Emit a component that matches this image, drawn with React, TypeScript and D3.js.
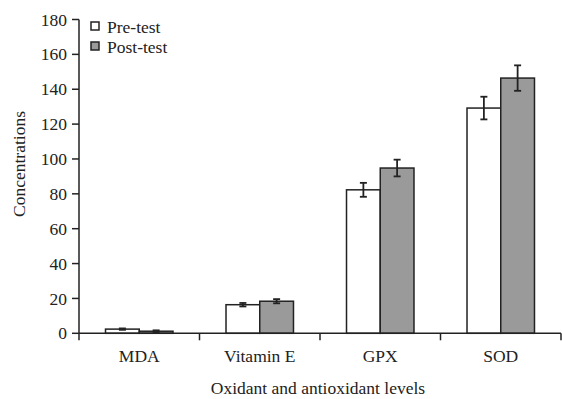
import { useEffect, useRef } from "react";
import * as d3 from "d3";

const categories = ["MDA", "Vitamin E", "GPX", "SOD"];
const seriesNames = ["Pre-test", "Post-test"];
const preValues = [2.4, 16.4, 82.3, 129.2];
const preErrors = [0.4, 1.0, 4.0, 6.5];
const postValues = [1.2, 18.4, 94.8, 146.4];
const postErrors = [0.5, 1.2, 4.8, 7.3];
const yTicks = [0, 20, 40, 60, 80, 100, 120, 140, 160, 180];
const fills = ["#ffffff", "#9a9a9a"];

export default function App() {
  const ref = useRef<SVGSVGElement | null>(null);

  useEffect(() => {
    const svg = d3.select(ref.current);
    svg.selectAll("*").remove();

    const font = "'Liberation Serif', 'Times New Roman', serif";
    const fs = 17.5;
    const left = 79;
    const right = 561;
    const top = 19.5;
    const bottom = 333.3;

    const x = d3.scaleBand().domain(categories).range([left, right]).paddingInner(0.44).paddingOuter(0.22);
    const sub = d3.scaleBand().domain(seriesNames).range([0, x.bandwidth()]);
    const y = d3.scaleLinear().domain([0, 180]).range([bottom, top]);

    const g = svg.append("g");

    // y axis
    g.append("line").attr("x1", left).attr("x2", left).attr("y1", top).attr("y2", bottom)
      .attr("stroke", "#222").attr("stroke-width", 1.5);
    yTicks.forEach((t) => {
      g.append("line").attr("x1", left - 7).attr("x2", left).attr("y1", y(t)).attr("y2", y(t))
        .attr("stroke", "#222").attr("stroke-width", 1.5);
      g.append("text").attr("x", left - 12).attr("y", y(t)).attr("dy", "0.35em")
        .attr("text-anchor", "end").attr("font-family", font).attr("font-size", fs)
        .attr("fill", "#222").text(t);
    });

    // bars
    const rows = [
      { values: preValues, errors: preErrors },
      { values: postValues, errors: postErrors },
    ];
    rows.forEach((row, si) => {
      categories.forEach((c, i) => {
        const bx = (x(c) as number) + (sub(seriesNames[si]) as number);
        const bw = sub.bandwidth();
        g.append("rect").attr("x", bx).attr("y", y(row.values[i]))
          .attr("width", bw).attr("height", y(0) - y(row.values[i]))
          .attr("fill", fills[si]).attr("stroke", "#222").attr("stroke-width", 1.5);
        const cx = bx + bw / 2;
        const hi = y(row.values[i] + row.errors[i]);
        const lo = y(row.values[i] - row.errors[i]);
        g.append("line").attr("x1", cx).attr("x2", cx).attr("y1", hi).attr("y2", lo)
          .attr("stroke", "#222").attr("stroke-width", 1.8);
        [hi, lo].forEach((yy) => {
          g.append("line").attr("x1", cx - 3.5).attr("x2", cx + 3.5).attr("y1", yy).attr("y2", yy)
            .attr("stroke", "#222").attr("stroke-width", 1.8);
        });
      });
    });

    // x axis
    g.append("line").attr("x1", left).attr("x2", right).attr("y1", bottom).attr("y2", bottom)
      .attr("stroke", "#222").attr("stroke-width", 1.5);
    const step = x.step();
    d3.range(categories.length + 1).forEach((i) => {
      const tx = left + i * step;
      g.append("line").attr("x1", tx).attr("x2", tx).attr("y1", bottom).attr("y2", bottom + 7)
        .attr("stroke", "#222").attr("stroke-width", 1.5);
    });
    categories.forEach((c) => {
      g.append("text").attr("x", (x(c) as number) + x.bandwidth() / 2).attr("y", 356)
        .attr("dy", "0.35em").attr("text-anchor", "middle").attr("font-family", font)
        .attr("font-size", fs).attr("fill", "#222").text(c);
    });

    // axis titles
    g.append("text").attr("x", 318).attr("y", 388).attr("dy", "0.35em")
      .attr("text-anchor", "middle").attr("font-family", font).attr("font-size", fs)
      .attr("fill", "#222").text("Oxidant and antioxidant levels");
    g.append("text").attr("transform", `translate(19, 164) rotate(-90)`)
      .attr("dy", "0.35em").attr("text-anchor", "middle").attr("font-family", font)
      .attr("font-size", fs).attr("fill", "#222").text("Concentrations");

    // legend
    seriesNames.forEach((s, i) => {
      const ly = 26 + i * 20;
      g.append("rect").attr("x", 91).attr("y", ly - 4).attr("width", 8).attr("height", 8)
        .attr("fill", fills[i]).attr("stroke", "#222").attr("stroke-width", 1.5);
      g.append("text").attr("x", 107).attr("y", ly + 1).attr("dy", "0.35em")
        .attr("font-family", font).attr("font-size", fs).attr("fill", "#222").text(s);
    });
  }, []);

  return (
    <svg ref={ref} width={562} height={399}
      style={{ position: "absolute", left: 0, top: 0, background: "#fff" }} />
  );
}
